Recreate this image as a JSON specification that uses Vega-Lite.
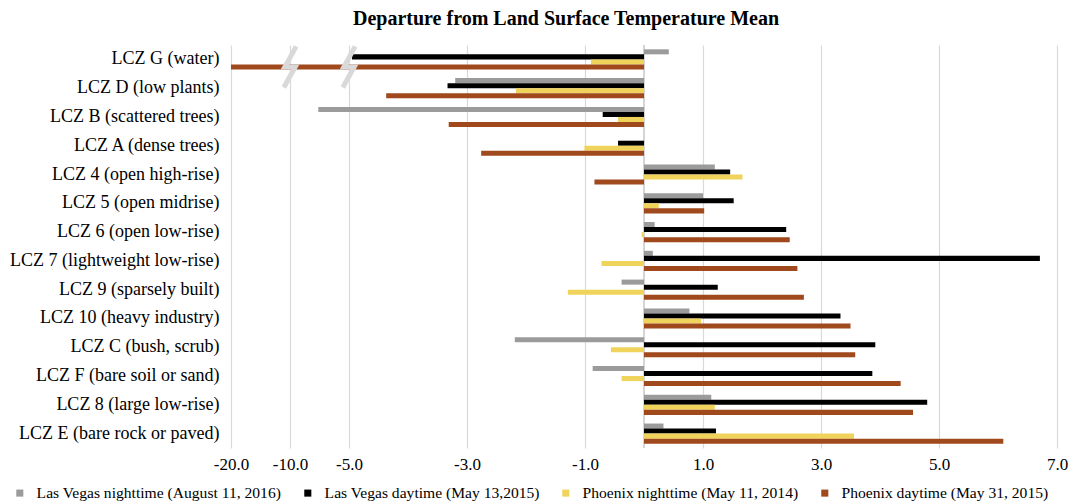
{
  "$schema": "https://vega.github.io/schema/vega-lite/v6.json",
  "autosize": {"type": "none"},
  "padding": {"left": 231, "top": 45, "right": 18, "bottom": 56},
  "width": 826,
  "height": 403,
  "background": "white",
  "title": {
    "text": "Departure from Land Surface Temperature Mean",
    "font": "Liberation Serif",
    "fontSize": 20,
    "fontWeight": "bold",
    "color": "#000000",
    "anchor": "middle",
    "dx": -78,
    "dy": 10,
    "offset": 17
  },
  "config": {
    "view": {"stroke": null},
    "axis": {"labelFont": "Liberation Serif", "labelColor": "#000000"},
    "legend": {"labelFont": "Liberation Serif", "labelColor": "#000000"}
  },
  "data": {
    "values": [
      {"lcz": "LCZ G (water)", "series": "Las Vegas nighttime (August 11, 2016)", "value": 0.42},
      {"lcz": "LCZ G (water)", "series": "Las Vegas daytime (May 13,2015)", "value": -4.95},
      {"lcz": "LCZ G (water)", "series": "Phoenix nighttime (May 11, 2014)", "value": -0.9},
      {"lcz": "LCZ G (water)", "series": "Phoenix daytime (May 31, 2015)", "value": -7},
      {"lcz": "LCZ D (low plants)", "series": "Las Vegas nighttime (August 11, 2016)", "value": -3.2},
      {"lcz": "LCZ D (low plants)", "series": "Las Vegas daytime (May 13,2015)", "value": -3.33},
      {"lcz": "LCZ D (low plants)", "series": "Phoenix nighttime (May 11, 2014)", "value": -2.17},
      {"lcz": "LCZ D (low plants)", "series": "Phoenix daytime (May 31, 2015)", "value": -4.37},
      {"lcz": "LCZ B (scattered trees)", "series": "Las Vegas nighttime (August 11, 2016)", "value": -5.52},
      {"lcz": "LCZ B (scattered trees)", "series": "Las Vegas daytime (May 13,2015)", "value": -0.7},
      {"lcz": "LCZ B (scattered trees)", "series": "Phoenix nighttime (May 11, 2014)", "value": -0.44},
      {"lcz": "LCZ B (scattered trees)", "series": "Phoenix daytime (May 31, 2015)", "value": -3.31},
      {"lcz": "LCZ A (dense trees)", "series": "Las Vegas nighttime (August 11, 2016)", "value": 0},
      {"lcz": "LCZ A (dense trees)", "series": "Las Vegas daytime (May 13,2015)", "value": -0.44},
      {"lcz": "LCZ A (dense trees)", "series": "Phoenix nighttime (May 11, 2014)", "value": -1.01},
      {"lcz": "LCZ A (dense trees)", "series": "Phoenix daytime (May 31, 2015)", "value": -2.76},
      {"lcz": "LCZ 4 (open high-rise)", "series": "Las Vegas nighttime (August 11, 2016)", "value": 1.2},
      {"lcz": "LCZ 4 (open high-rise)", "series": "Las Vegas daytime (May 13,2015)", "value": 1.46},
      {"lcz": "LCZ 4 (open high-rise)", "series": "Phoenix nighttime (May 11, 2014)", "value": 1.67},
      {"lcz": "LCZ 4 (open high-rise)", "series": "Phoenix daytime (May 31, 2015)", "value": -0.84},
      {"lcz": "LCZ 5 (open midrise)", "series": "Las Vegas nighttime (August 11, 2016)", "value": 1.0},
      {"lcz": "LCZ 5 (open midrise)", "series": "Las Vegas daytime (May 13,2015)", "value": 1.52},
      {"lcz": "LCZ 5 (open midrise)", "series": "Phoenix nighttime (May 11, 2014)", "value": 0.25},
      {"lcz": "LCZ 5 (open midrise)", "series": "Phoenix daytime (May 31, 2015)", "value": 1.02},
      {"lcz": "LCZ 6 (open low-rise)", "series": "Las Vegas nighttime (August 11, 2016)", "value": 0.18},
      {"lcz": "LCZ 6 (open low-rise)", "series": "Las Vegas daytime (May 13,2015)", "value": 2.41},
      {"lcz": "LCZ 6 (open low-rise)", "series": "Phoenix nighttime (May 11, 2014)", "value": -0.04},
      {"lcz": "LCZ 6 (open low-rise)", "series": "Phoenix daytime (May 31, 2015)", "value": 2.47},
      {"lcz": "LCZ 7 (lightweight low-rise)", "series": "Las Vegas nighttime (August 11, 2016)", "value": 0.15},
      {"lcz": "LCZ 7 (lightweight low-rise)", "series": "Las Vegas daytime (May 13,2015)", "value": 6.71},
      {"lcz": "LCZ 7 (lightweight low-rise)", "series": "Phoenix nighttime (May 11, 2014)", "value": -0.72},
      {"lcz": "LCZ 7 (lightweight low-rise)", "series": "Phoenix daytime (May 31, 2015)", "value": 2.6},
      {"lcz": "LCZ 9 (sparsely built)", "series": "Las Vegas nighttime (August 11, 2016)", "value": -0.38},
      {"lcz": "LCZ 9 (sparsely built)", "series": "Las Vegas daytime (May 13,2015)", "value": 1.25},
      {"lcz": "LCZ 9 (sparsely built)", "series": "Phoenix nighttime (May 11, 2014)", "value": -1.29},
      {"lcz": "LCZ 9 (sparsely built)", "series": "Phoenix daytime (May 31, 2015)", "value": 2.71},
      {"lcz": "LCZ 10 (heavy industry)", "series": "Las Vegas nighttime (August 11, 2016)", "value": 0.77},
      {"lcz": "LCZ 10 (heavy industry)", "series": "Las Vegas daytime (May 13,2015)", "value": 3.33},
      {"lcz": "LCZ 10 (heavy industry)", "series": "Phoenix nighttime (May 11, 2014)", "value": 0.97},
      {"lcz": "LCZ 10 (heavy industry)", "series": "Phoenix daytime (May 31, 2015)", "value": 3.5},
      {"lcz": "LCZ C (bush, scrub)", "series": "Las Vegas nighttime (August 11, 2016)", "value": -2.19},
      {"lcz": "LCZ C (bush, scrub)", "series": "Las Vegas daytime (May 13,2015)", "value": 3.92},
      {"lcz": "LCZ C (bush, scrub)", "series": "Phoenix nighttime (May 11, 2014)", "value": -0.56},
      {"lcz": "LCZ C (bush, scrub)", "series": "Phoenix daytime (May 31, 2015)", "value": 3.58},
      {"lcz": "LCZ F (bare soil or sand)", "series": "Las Vegas nighttime (August 11, 2016)", "value": -0.87},
      {"lcz": "LCZ F (bare soil or sand)", "series": "Las Vegas daytime (May 13,2015)", "value": 3.87},
      {"lcz": "LCZ F (bare soil or sand)", "series": "Phoenix nighttime (May 11, 2014)", "value": -0.38},
      {"lcz": "LCZ F (bare soil or sand)", "series": "Phoenix daytime (May 31, 2015)", "value": 4.35},
      {"lcz": "LCZ 8 (large low-rise)", "series": "Las Vegas nighttime (August 11, 2016)", "value": 1.14},
      {"lcz": "LCZ 8 (large low-rise)", "series": "Las Vegas daytime (May 13,2015)", "value": 4.8},
      {"lcz": "LCZ 8 (large low-rise)", "series": "Phoenix nighttime (May 11, 2014)", "value": 1.2},
      {"lcz": "LCZ 8 (large low-rise)", "series": "Phoenix daytime (May 31, 2015)", "value": 4.56},
      {"lcz": "LCZ E (bare rock or paved)", "series": "Las Vegas nighttime (August 11, 2016)", "value": 0.33},
      {"lcz": "LCZ E (bare rock or paved)", "series": "Las Vegas daytime (May 13,2015)", "value": 1.22},
      {"lcz": "LCZ E (bare rock or paved)", "series": "Phoenix nighttime (May 11, 2014)", "value": 3.56},
      {"lcz": "LCZ E (bare rock or paved)", "series": "Phoenix daytime (May 31, 2015)", "value": 6.09}
    ]
  },
  "layer": [
    {
      "mark": {"type": "rule", "color": "#d4d4d4", "strokeWidth": 1.5},
      "encoding": {
        "x": {
          "datum": 0,
          "type": "quantitative",
          "title": null,
          "scale": {"domain": [-7, 7], "nice": false, "zero": false},
          "axis": {
            "title": null,
            "values": [-7, -6, -5, -3, -1, 1, 3, 5, 7],
            "labelExpr": "datum.value == -7 ? '-20.0' : datum.value == -6 ? '-10.0' : replace(format(datum.value, '.1f'), '\u2212', '-')",
            "domain": false,
            "ticks": false,
            "grid": true,
            "gridColor": "#d9d9d9",
            "gridWidth": 1.2,
            "labelFontSize": 17,
            "labelPadding": 8,
            "labelFlush": false
          }
        }
      }
    },
    {
      "mark": {"type": "bar"},
      "encoding": {
        "y": {
          "field": "lcz",
          "type": "nominal",
          "sort": null,
          "title": null,
          "scale": {"paddingInner": 0.3, "paddingOuter": 0.15},
          "axis": {"domain": false, "ticks": false, "labelFontSize": 18, "labelPadding": 12, "grid": false, "labelLimit": 0}
        },
        "yOffset": {
          "field": "series",
          "type": "nominal",
          "sort": null,
          "scale": {
            "domain": ["Las Vegas nighttime (August 11, 2016)", "Las Vegas daytime (May 13,2015)", "Phoenix nighttime (May 11, 2014)", "Phoenix daytime (May 31, 2015)"],
            "paddingInner": 0, "paddingOuter": 0
          }
        },
        "x": {"field": "value", "type": "quantitative", "title": null},
        "color": {
          "field": "series",
          "type": "nominal",
          "scale": {
            "domain": ["Las Vegas nighttime (August 11, 2016)", "Las Vegas daytime (May 13,2015)", "Phoenix nighttime (May 11, 2014)", "Phoenix daytime (May 31, 2015)"],
            "range": ["#9b9b9b", "#000000", "#f0d35a", "#a0491c"]
          },
          "legend": {
            "title": null,
            "orient": "none",
            "legendX": -219,
            "legendY": 440,
            "direction": "horizontal",
            "columns": 4,
            "columnPadding": 18,
            "symbolType": "square",
            "symbolSize": 50,
            "symbolStrokeWidth": 0,
            "labelFontSize": 15.6,
            "labelOffset": 9,
            "labelLimit": 400
          }
        }
      }
    },
    {
      "data": {"values": [
        {"lcz": "LCZ G (water)", "series": "Phoenix daytime (May 31, 2015)", "value": -6},
        {"lcz": "LCZ G (water)", "series": "Phoenix daytime (May 31, 2015)", "value": -5}
      ]},
      "mark": {
        "type": "point",
        "shape": "M0.3,-1 L-0.25,0 L0.25,0 L-0.3,1",
        "filled": false,
        "stroke": "#d9d9d9",
        "strokeWidth": 5,
        "opacity": 1,
        "size": 1700
      },
      "encoding": {
        "x": {"field": "value", "type": "quantitative", "title": null},
        "y": {"field": "lcz", "type": "nominal", "sort": null, "title": null},
        "yOffset": {"field": "series", "type": "nominal", "sort": null}
      }
    }
  ]
}
